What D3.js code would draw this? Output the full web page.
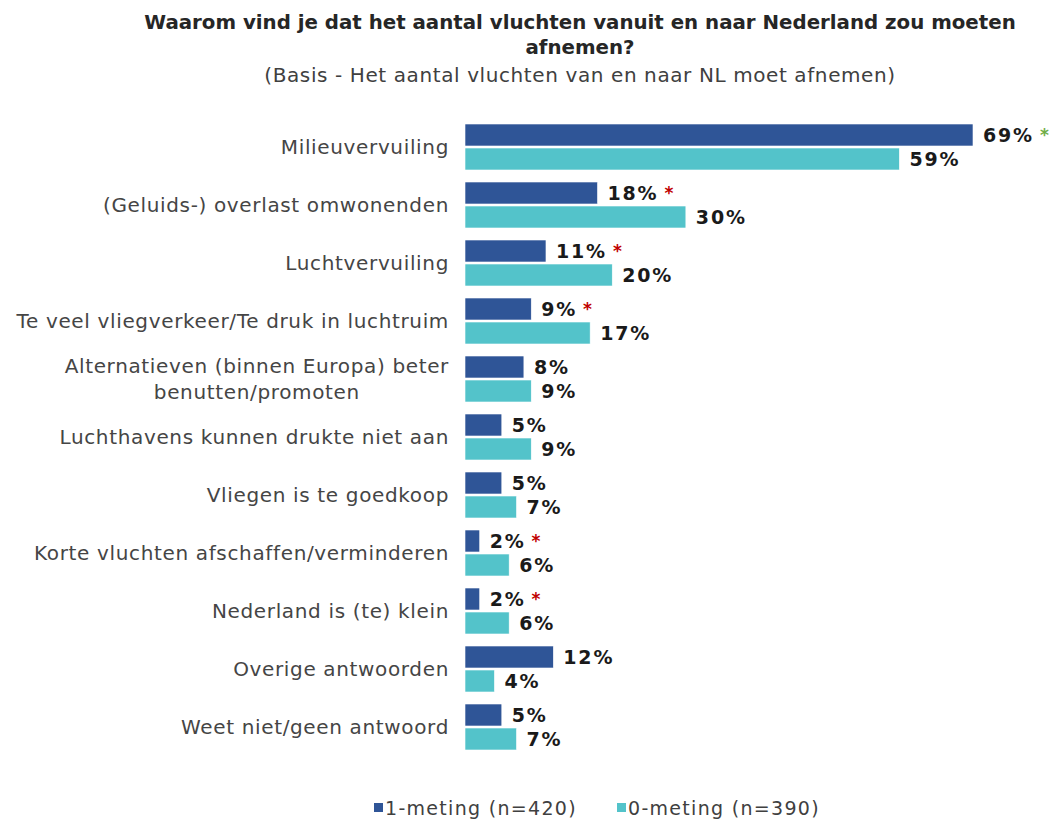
<!DOCTYPE html>
<html>
<head>
<meta charset="utf-8">
<script src="https://cdn.jsdelivr.net/npm/d3@7"></script>
<style>
  body { margin: 0; background: #fff; }
  text { font-family: "DejaVu Sans", sans-serif; }
</style>
</head>
<body>
<div id="chart"></div>
<script>
"use strict";

// categories (top to bottom), multi-line labels split by "|"
var categories = [
  "Milieuvervuiling",
  "(Geluids-) overlast omwonenden",
  "Luchtvervuiling",
  "Te veel vliegverkeer/Te druk in luchtruim",
  "Alternatieven (binnen Europa) beter|benutten/promoten",
  "Luchthavens kunnen drukte niet aan",
  "Vliegen is te goedkoop",
  "Korte vluchten afschaffen/verminderen",
  "Nederland is (te) klein",
  "Overige antwoorden",
  "Weet niet/geen antwoord"
];
var meting1 = [69, 18, 11, 9, 8, 5, 5, 2, 2, 12, 5];
var meting0 = [59, 30, 20, 17, 9, 9, 7, 6, 6, 4, 7];
// significance marker on the 1-meting value
var signif = ["up", "down", "down", "down", null, null, null, "down", "down", null, null];
var seriesNames = ["1-meting (n=420)", "0-meting (n=390)"];

var width = 1057, height = 822;
var colors = ["#2F5597", "#53C3CA"];

var svg = d3.select("#chart").append("svg")
  .attr("width", width)
  .attr("height", height);

// title
svg.append("text").attr("x", 580).attr("y", 29)
  .attr("text-anchor", "middle").attr("font-weight", "bold")
  .attr("font-size", 19.8).attr("fill", "#262626")
  .text("Waarom vind je dat het aantal vluchten vanuit en naar Nederland zou moeten");
svg.append("text").attr("x", 580).attr("y", 54)
  .attr("text-anchor", "middle").attr("font-weight", "bold")
  .attr("font-size", 19.8).attr("fill", "#262626")
  .text("afnemen?");
svg.append("text").attr("x", 580).attr("y", 82)
  .attr("text-anchor", "middle")
  .attr("font-size", 20).attr("fill", "#404040")
  .attr("letter-spacing", 0.6)
  .text("(Basis - Het aantal vluchten van en naar NL moet afnemen)");

// scales
var x = d3.scaleLinear().domain([0, 69]).range([465, 973]);
var y = d3.scaleBand().domain(d3.range(categories.length))
  .range([124, 750]).paddingInner(12 / 58).paddingOuter(0);
var sub = d3.scaleBand().domain([0, 1]).range([0, y.bandwidth()]).paddingInner(2 / 24);

var groups = svg.selectAll("g.cat")
  .data(categories)
  .enter().append("g")
  .attr("class", "cat")
  .attr("transform", function(d, i) { return "translate(0," + y(i) + ")"; });

// category labels
groups.each(function(d) {
  var g = d3.select(this);
  var lines = d.split("|");
  var t = g.append("text")
    .attr("font-size", 20)
    .attr("letter-spacing", 0.65)
    .attr("fill", "#454545");
  var lh = 26;
  var cy = y.bandwidth() / 2 - (lines.length - 1) * lh / 2 + 7;
  lines.forEach(function(l, k) {
    t.append("tspan").attr("y", cy + k * lh).text(l);
  });
  // right-align block, centre lines within it
  var maxW = 0;
  t.selectAll("tspan").each(function() {
    maxW = Math.max(maxW, this.getComputedTextLength());
  });
  t.attr("text-anchor", "middle");
  t.selectAll("tspan").attr("x", 449 - maxW / 2);
});

// bars
var series = [meting1, meting0];
series.forEach(function(vals, s) {
  groups.append("rect")
    .attr("x", x(0))
    .attr("y", sub(s))
    .attr("width", function(d, i) { return x(vals[i]) - x(0); })
    .attr("height", sub.bandwidth())
    .attr("fill", colors[s])
    .attr("stroke", "#ffffff")
    .attr("stroke-width", 0.6);

  groups.append("text")
    .attr("class", "val")
    .attr("x", function(d, i) { return x(vals[i]) + 10; })
    .attr("y", sub(s) + sub.bandwidth() / 2 + 7)
    .attr("font-size", 19)
    .attr("font-weight", "bold")
    .attr("letter-spacing", 1.8)
    .attr("fill", "#1a1a1a")
    .text(function(d, i) { return vals[i] + "%"; })
    .each(function(d, i) {
      if (s === 0 && signif[i]) {
        var w = this.getComputedTextLength();
        d3.select(this.parentNode).append("text")
          .attr("x", x(vals[i]) + 10 + w + 6)
          .attr("y", sub(0) + sub.bandwidth() / 2 + 6)
          .attr("font-size", 17)
          .attr("font-weight", "bold")
          .attr("fill", signif[i] === "up" ? "#70AD47" : "#C00000")
          .text("*");
      }
    });
});

// legend
var legend = svg.append("g").attr("transform", "translate(0,815)");
var legX = [374, 617];
seriesNames.forEach(function(n, s) {
  legend.append("rect").attr("x", legX[s]).attr("y", -12)
    .attr("width", 9).attr("height", 9).attr("fill", colors[s]);
  legend.append("text").attr("x", legX[s] + 11).attr("y", 0)
    .attr("font-size", 19).attr("fill", "#404040")
    .attr("letter-spacing", 1.3)
    .text(n);
});
</script>
</body>
</html>
